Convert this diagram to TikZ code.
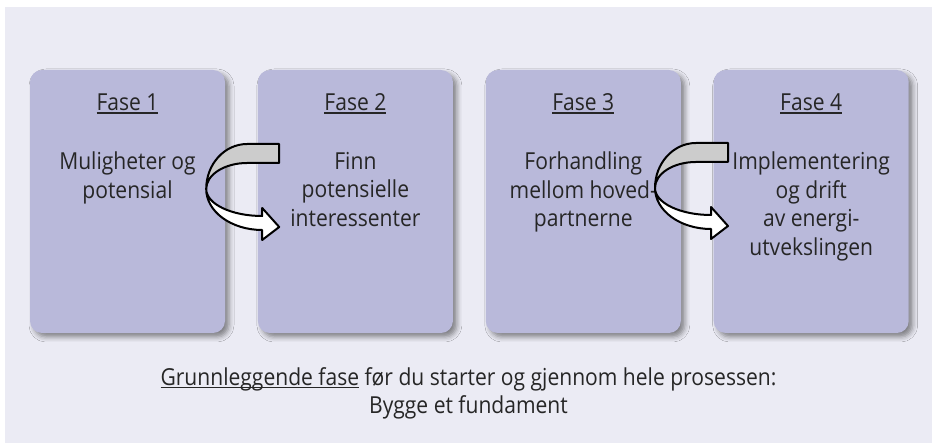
\documentclass[tikz,border=0pt]{standalone}
\usepackage{fontspec}
\setmainfont{Open Sans}[FakeStretch=0.9]
\usetikzlibrary{positioning,calc,shadows.blur}

\definecolor{bakgrunn}{HTML}{EBEBF4}
\definecolor{fasefarge}{HTML}{B9B9DA}
\definecolor{tekst}{HTML}{262626}

% understreking med fast avstand under grunnlinjen
\newsavebox\strekboks
\newcommand{\strek}[1]{\sbox\strekboks{#1}\rlap{\rule[-3pt]{\wd\strekboks}{1.4pt}}\usebox\strekboks}

\tikzset{
	fase/.style={rectangle, rounded corners=12pt, fill=fasefarge,
		minimum width=195pt, minimum height=263pt, inner sep=0pt,
		blur shadow={shadow xshift=4pt, shadow yshift=-4pt, shadow blur radius=5pt, shadow opacity=45}},
	tittel/.style={anchor=base, inner sep=0pt, text=tekst, font=\fontsize{23.4pt}{28.5pt}\selectfont},
	% toppen ligger 20pt over foerste grunnlinje
	innhold/.style={tittel, anchor=north, align=center, execute at begin node={\rule{0pt}{20pt}}},
	baand/.style={draw=black, line width=2pt, line join=round},
	snu/.pic={
		% bakre del av baandet
		\filldraw[baand, fill=gray!40] (73,45) -- (41,45)
			arc[start angle=90, end angle=180, x radius=41pt, y radius=45pt]
			arc[start angle=180, end angle=90, x radius=41pt, y radius=26pt]
			-- (73,26) -- cycle;
		% fremre del med pilhode
		\filldraw[baand, fill=white] (0,0)
			arc[start angle=180, end angle=270, x radius=56pt, y radius=41pt]
			-- (56,-51) -- (73,-38) -- (56,-19) -- (56,-27)
			arc[start angle=270, end angle=180, x radius=56pt, y radius=27pt]
			-- cycle;
	}
}

\begin{document}
\begin{tikzpicture}[x=1pt, y=1pt]
	\fill[white] (0,0) rectangle (932,443);
	\fill[bakgrunn] (5,0) rectangle (932,436);
	\useasboundingbox (0,0) rectangle (932,443);

	\node[fase] (f1) at (127.5,241.5) {};
	\node[fase, right=32.5pt of f1] (f2) {};
	\node[fase, right=32.5pt of f2] (f3) {};
	\node[fase, right=32.5pt of f3] (f4) {};

	\foreach \n in {1,...,4}
		\node[tittel] (t\n) at ($(f\n.north)+(0,-41)$) {\strek{Fase \n}};

	\node[innhold] (b1) at ($(f1.north)+(0,-82)$) {Muligheter og\\potensial};
	\node[innhold] (b2) at ($(f2.north)+(0,-82)$) {Finn\\potensielle\\interessenter};
	\node[innhold] (b3) at ($(f3.north)+(0,-82)$) {Forhandling\\mellom hoved-\\partnerne};
	\node[innhold] (b4) at ($(f4.north)+(0,-82)$) {Implementering\\og drift\\av energi-\\utvekslingen};

	\pic at ($(f1.east)+(-19,12.5)$) {snu};
	\pic at ($(f3.east)+(-26,13.5)$) {snu};

	\node[innhold] (grunn) at (468.5,76) {\strek{Grunnleggende fase} før du starter og gjennom hele prosessen:\\Bygge et fundament};
\end{tikzpicture}
\end{document}
